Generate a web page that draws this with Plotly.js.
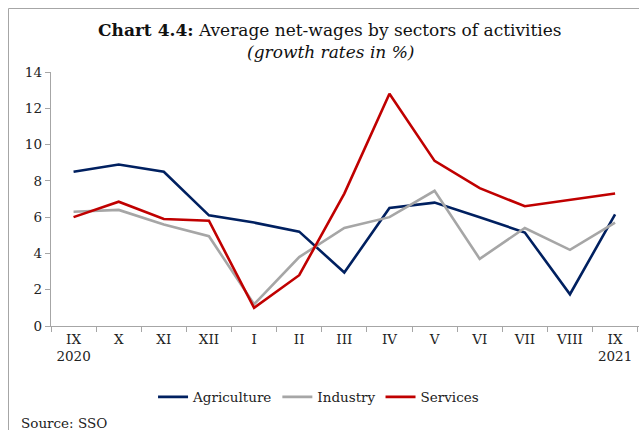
<!DOCTYPE html>
<html><head><meta charset="utf-8">
<script src="https://cdn.plot.ly/plotly-3.0.1.min.js"></script>
<style>html,body{margin:0;padding:0;background:#fff}#chart{width:639px;height:430px}</style>
</head><body><div id="chart"></div>
<script>
const months = ["IX<br>2020","X","XI","XII","I","II","III","IV","V","VI","VII","VIII","IX<br>2021"];
const agriculture = [8.5, 8.9, 8.5, 6.1, 5.7, 5.2, 2.95, 6.5, 6.8, 6.0, 5.15, 1.75, 6.15];
const industry   = [6.3, 6.4, 5.6, 4.95, 1.2, 3.8, 5.4, 6.0, 7.45, 3.7, 5.4, 4.2, 5.7];
const services   = [6.0, 6.85, 5.9, 5.8, 1.0, 2.8, 7.3, 12.8, 9.1, 7.6, 6.6, 6.95, 7.3];
const seriesNames = ["Agriculture","Industry","Services"];
const colors = ["#002060","#a6a6a6","#c00000"];
const font = "DejaVu Serif, serif";
const data = [agriculture, industry, services].map((v,i)=>({
  x: months, y: v, type:"scatter", mode:"lines", name: seriesNames[i],
  line:{color:colors[i], width:2.6}
}));
const layout = {
  width:639, height:430,
  margin:{l:51, r:0, t:72, b:104},
  paper_bgcolor:"#fff", plot_bgcolor:"#fff",
  font:{family:font, size:13, color:"#222"},
  showlegend:true,
  legend:{orientation:"h", x:0.455, xanchor:"center", y:-0.28, yanchor:"middle",
          font:{family:font, size:13.5, color:"#222"}, itemwidth:30, tracegroupgap:0},
  xaxis:{type:"category", range:[-0.5, 12.53], showline:true, linecolor:"#a6a6a6", linewidth:1.3,
         ticks:"outside", tickson:"boundaries", ticklen:5, tickcolor:"#a6a6a6",
         showgrid:false, zeroline:false, tickfont:{family:font, size:13.5, color:"#222"}, automargin:false},
  yaxis:{range:[0,14], dtick:2, showline:true, linecolor:"#a6a6a6", linewidth:1.3,
         ticks:"outside", ticklen:5, tickcolor:"#a6a6a6", showgrid:false, zeroline:false,
         tickfont:{family:font, size:13.5, color:"#222"}, automargin:false},
  annotations:[
    {xref:"paper", yref:"paper", x:(330-51)/588, y:(326-30)/254, xanchor:"center", yanchor:"middle",
     text:"<b>Chart 4.4:</b> Average net-wages by sectors of activities", showarrow:false,
     font:{family:font, size:17, color:"#111"}},
    {xref:"paper", yref:"paper", x:(330-51)/588, y:(326-52)/254, xanchor:"center", yanchor:"middle",
     text:"<i>(growth rates in %)</i>", showarrow:false, font:{family:font, size:17, color:"#111"}},
    {xref:"paper", yref:"paper", x:(19-51)/588, y:(326-423)/254, xanchor:"left", yanchor:"middle",
     text:"Source: SSO", showarrow:false, font:{family:font, size:13.5, color:"#222"}}
  ],
  shapes:[
    {type:"line", xref:"paper", yref:"paper", x0:(8.5-51)/588, x1:(8.5-51)/588, y0:(326-440)/254, y1:(326-8.5)/254,
     line:{color:"#a6a6a6", width:1}},
    {type:"line", xref:"paper", yref:"paper", x0:(8.5-51)/588, x1:1.05, y0:(326-8.5)/254, y1:(326-8.5)/254,
     line:{color:"#a6a6a6", width:1}}
  ]
};
Plotly.newPlot("chart", data, layout, {displayModeBar:false, staticPlot:true});
</script></body></html>
